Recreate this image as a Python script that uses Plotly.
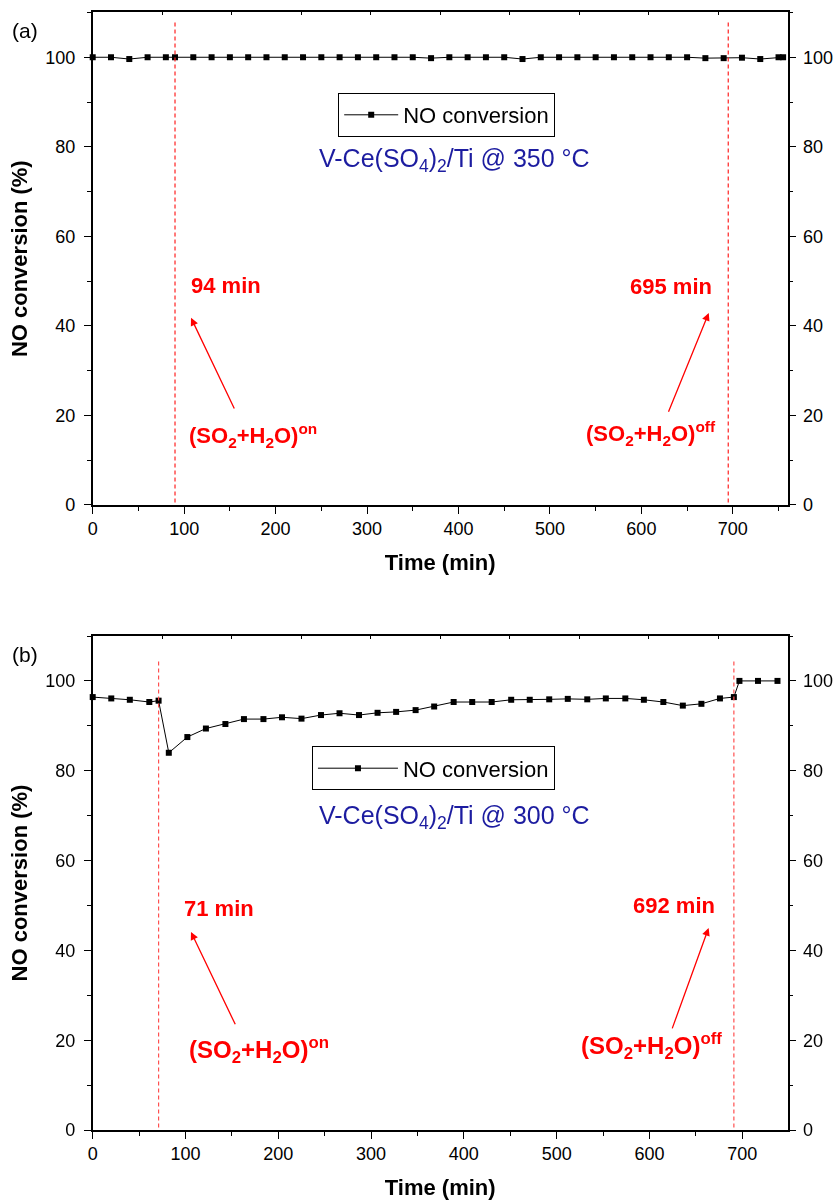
import plotly.graph_objects as go

# panel (a): V-Ce(SO4)2/Ti @ 350 °C
time_a = [0, 20, 40, 60, 80, 90, 110, 130, 150, 170, 190, 210, 230, 250, 270, 290,
          310, 330, 350, 370, 390, 410, 430, 450, 470, 490, 510, 530, 550, 570,
          590, 610, 630, 650, 670, 690, 710, 730, 750, 755]
conv_a = [100.0, 100.0, 99.6, 100.0, 100.0, 100.0, 100.0, 100.0, 100.0, 100.0,
          100.0, 100.0, 100.0, 100.0, 100.0, 100.0, 100.0, 100.0, 100.0, 99.8,
          100.0, 100.0, 100.0, 100.0, 99.6, 100.0, 100.0, 100.0, 100.0, 100.0,
          100.0, 100.0, 100.0, 100.0, 99.8, 99.8, 99.9, 99.6, 100.0, 100.0]
events_a = [90, 695]
event_labels_a = ["94 min", "695 min"]

# panel (b): V-Ce(SO4)2/Ti @ 300 °C
time_b = [0, 20, 40, 61, 71, 82, 102, 122, 143, 163, 184, 204, 225, 246, 266, 287,
          307, 327, 348, 368, 389, 409, 430, 451, 471, 492, 512, 533, 553, 574,
          594, 615, 636, 656, 676, 691, 697, 717, 738]
conv_b = [96.4, 96.1, 95.8, 95.3, 95.6, 84.0, 87.5, 89.4, 90.4, 91.5,
          91.5, 91.9, 91.6, 92.4, 92.8, 92.4, 92.9, 93.1, 93.5, 94.3,
          95.3, 95.3, 95.3, 95.8, 95.8, 95.9, 96.0, 95.9, 96.1, 96.1,
          95.8, 95.3, 94.5, 94.9, 96.1, 96.4, 100.0, 100.0, 100.0]
events_b = [71, 691]
event_labels_b = ["71 min", "692 min"]

y_ticks = [0, 20, 40, 60, 80, 100]
xmax_a, xmax_b = 760, 749

FONT = "Liberation Sans, Arial, sans-serif"
RED = "#FF0000"
BLUE = "#1C1CA0"
on_text = "<b>(SO<sub>2</sub>+H<sub>2</sub>O)<sup>on</sup></b>"
off_text = "<b>(SO<sub>2</sub>+H<sub>2</sub>O)<sup>off</sup></b>"

xdom = [0.1113, 0.9456]
ydom_a = [0.5792, 0.9896]
ydom_b = [0.0583, 0.47]

fig = go.Figure()

for t, c, xa, ya, lg in [(time_a, conv_a, "x", "y", "legend"),
                         (time_b, conv_b, "x2", "y2", "legend2")]:
    fig.add_trace(go.Scatter(
        x=t, y=c, xaxis=xa, yaxis=ya, mode="lines+markers", name="NO conversion",
        line=dict(color="black", width=1),
        marker=dict(symbol="square", size=6, color="black"),
        legend=lg, showlegend=True, cliponaxis=False
    ))

# invisible copies so the right-hand and top tick axes get drawn
for t, c, xa, ya in [(time_a, conv_a, "x3", "y3"), (time_b, conv_b, "x4", "y4")]:
    fig.add_trace(go.Scatter(x=t, y=c, xaxis=xa, yaxis=ya, mode="markers",
                             opacity=0, showlegend=False, hoverinfo="skip"))

ax_common = dict(
    showgrid=False, zeroline=False, showline=True, linecolor="black", linewidth=1.6,
    ticks="outside", ticklen=7, tickwidth=1.4, tickcolor="black", automargin=False,
    tickfont=dict(family=FONT, size=18, color="black"),
)
minor_x = dict(dtick=50, ticklen=4, tickwidth=1.2, tickcolor="black", ticks="outside")
minor_y = dict(dtick=10, ticklen=4, tickwidth=1.2, tickcolor="black", ticks="outside")
title_font = dict(family=FONT, size=22, color="black")


def top_ticks(over, anchor, xmax):
    return dict(overlaying=over, side="top", anchor=anchor, range=[0, xmax],
                tickvals=[xmax * k / 10 for k in range(1, 10)], automargin=False,
                showgrid=False, zeroline=False, showline=False, ticks="inside",
                ticklen=3, tickcolor="black", tickwidth=1.2, showticklabels=False)


layout = dict(
    width=833, height=1200, margin=dict(l=0, r=0, t=0, b=0),
    plot_bgcolor="white", paper_bgcolor="white",
    font=dict(family=FONT, color="black"),
    xaxis=dict(ax_common, domain=xdom, anchor="y", range=[0, xmax_a], dtick=100,
               minor=minor_x, mirror=True,
               title=dict(text="<b>Time (min)</b>", font=title_font, standoff=16)),
    yaxis=dict(ax_common, domain=ydom_a, anchor="x", range=[0, 110],
               minor=minor_y, mirror=True, tickvals=y_ticks, ticklabelstandoff=5,
               title=dict(text="<b>NO conversion (%)</b>", font=title_font, standoff=12)),
    yaxis3=dict(ax_common, overlaying="y", side="right", anchor="x", range=[0, 110],
                tickvals=y_ticks, minor=minor_y, ticklabelstandoff=3),
    xaxis3=top_ticks("x", "y", xmax_a),
    xaxis2=dict(ax_common, domain=xdom, anchor="y2", range=[0, xmax_b], dtick=100,
                minor=minor_x, mirror=True,
                title=dict(text="<b>Time (min)</b>", font=title_font, standoff=16)),
    yaxis2=dict(ax_common, domain=ydom_b, anchor="x2", range=[0, 110],
                minor=minor_y, mirror=True, tickvals=y_ticks, ticklabelstandoff=5,
                title=dict(text="<b>NO conversion (%)</b>", font=title_font, standoff=12)),
    yaxis4=dict(ax_common, overlaying="y2", side="right", anchor="x2", range=[0, 110],
                tickvals=y_ticks, minor=minor_y, ticklabelstandoff=3),
    xaxis4=top_ticks("x2", "y2", xmax_b),
    legend=dict(x=0.406, y=0.9225, xanchor="left", yanchor="top",
                bordercolor="black", borderwidth=1, bgcolor="white", itemwidth=54,
                font=dict(family=FONT, size=22, color="black")),
    legend2=dict(x=0.3745, y=0.378, xanchor="left", yanchor="top",
                 bordercolor="black", borderwidth=1, bgcolor="white", itemwidth=80,
                 font=dict(family=FONT, size=22, color="black")),
    showlegend=True,
)
fig.update_layout(**layout)

# dashed event lines
for ev, xa, ya, top, col in [(events_a, "x", "y", 108, "#FF2020"),
                             (events_b, "x2", "y2", 105, "#FF5050")]:
    for e in ev:
        fig.add_shape(type="line", xref=xa, yref=ya, x0=e, x1=e, y0=-1, y1=top,
                      line=dict(color=col, width=1.2, dash="4px,3px"))


def add_panel_notes(xa, ya, labels, lab_pos, note_pos, arrows, note_size):
    for lab, (x, y) in zip(labels, lab_pos):
        fig.add_annotation(x=x, y=y, xref=xa, yref=ya, text="<b>" + lab + "</b>",
                           showarrow=False, font=dict(family=FONT, size=22, color=RED))
    for txt, (x, y) in zip([on_text, off_text], note_pos):
        fig.add_annotation(x=x, y=y, xref=xa, yref=ya, text=txt, showarrow=False,
                           font=dict(family=FONT, size=note_size, color=RED))
    for (tx, ty), (hx, hy) in arrows:
        fig.add_annotation(x=hx, y=hy, ax=tx, ay=ty, xref=xa, yref=ya,
                           axref=xa, ayref=ya, text="", showarrow=True,
                           arrowhead=2, arrowsize=1.2, arrowwidth=1.3,
                           arrowcolor=RED)


add_panel_notes("x", "y", event_labels_a,
                [(146, 49.1), (632, 48.7)],
                [(175, 15.5), (611, 16.0)],
                [((155.6, 21.2), (107.5, 41.8)), ((629, 20.5), (673.7, 42.9))], 22)
add_panel_notes("x2", "y2", event_labels_b,
                [(136, 49.4), (627, 50.1)],
                [(179, 17.8), (602, 18.7)],
                [((154.4, 23.2), (105.9, 44.1)), ((624, 22.3), (663.8, 45.0))], 24)

# sample captions and panel labels (centre-anchored in paper coordinates)
captions = [("V-Ce(SO<sub>4</sub>)<sub>2</sub>/Ti @ 350 °C", 0.546, 1 - 160 / 1200, 25, BLUE),
            ("V-Ce(SO<sub>4</sub>)<sub>2</sub>/Ti @ 300 °C", 0.546, 1 - 817 / 1200, 25, BLUE),
            ("(a)", 0.03, 1 - 30 / 1200, 21, "black"),
            ("(b)", 0.03, 1 - 655 / 1200, 21, "black")]
for txt, x, y, size, col in captions:
    fig.add_annotation(x=x, y=y, xref="paper", yref="paper", text=txt,
                       xanchor="center", yanchor="middle", showarrow=False,
                       font=dict(family=FONT, size=size, color=col))

fig.write_html("out.html", config={"displayModeBar": False},
               post_script="document.body.style.margin='0px';")
